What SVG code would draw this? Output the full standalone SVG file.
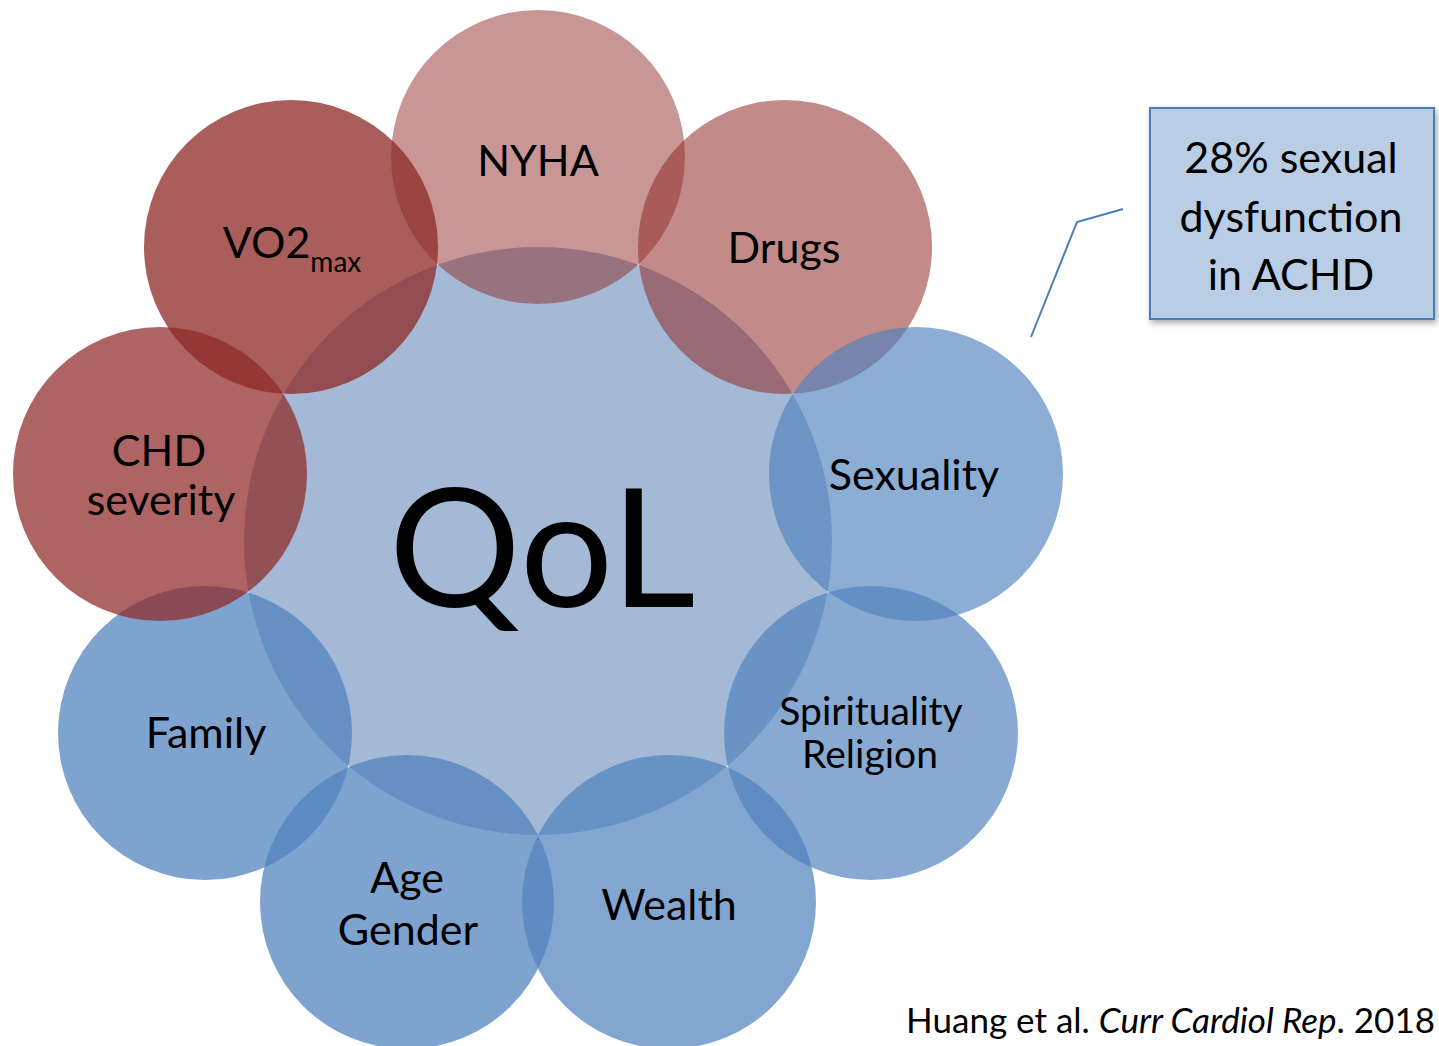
<svg xmlns="http://www.w3.org/2000/svg" width="1439" height="1046" viewBox="0 0 1439 1046">
  <style>
    .lbl { font-family: Lato, "Open Sans", "Liberation Sans", sans-serif; font-size: 43px; fill: #000; text-anchor: middle; }
    .sm { font-size: 39px; }
    .red { fill: #8E2826; }
    .blue { fill: #4F81BD; }
    .callout-text { font-family: Lato, "Open Sans", "Liberation Sans", sans-serif; font-size: 43px; fill: #000; text-anchor: middle; }
    .cite { font-family: Lato, "Open Sans", "Liberation Sans", sans-serif; font-size: 35px; fill: #000; text-anchor: end; }
  </style>
  <defs>
    <filter id="shadow" x="-10%" y="-10%" width="130%" height="130%">
      <feGaussianBlur in="SourceAlpha" stdDeviation="3"/>
      <feOffset dx="2" dy="3" result="ob"/>
      <feComponentTransfer><feFuncA type="linear" slope="0.35"/></feComponentTransfer>
      <feMerge><feMergeNode/><feMergeNode in="SourceGraphic"/></feMerge>
    </filter>
  </defs>
  <rect width="1439" height="1046" fill="#FFFFFF"/>

  <g id="node-qol">
    <circle cx="538" cy="541" r="294" fill="#A3B9D5"/>
  </g>
  <g id="node-nyha">
    <circle class="red" cx="538" cy="157" r="147" fill-opacity="0.49"/>
  </g>
  <g id="node-drugs">
    <circle class="red" cx="785" cy="247" r="147" fill-opacity="0.54"/>
  </g>
  <g id="node-sexuality">
    <circle class="blue" cx="916" cy="474" r="147" fill-opacity="0.65"/>
  </g>
  <g id="node-spirituality">
    <circle class="blue" cx="871" cy="733" r="147" fill-opacity="0.68"/>
  </g>
  <g id="node-wealth">
    <circle class="blue" cx="669" cy="902" r="147" fill-opacity="0.71"/>
  </g>
  <g id="node-age">
    <circle class="blue" cx="407" cy="902" r="147" fill-opacity="0.73"/>
  </g>
  <g id="node-family">
    <circle class="blue" cx="205" cy="733" r="147" fill-opacity="0.73"/>
  </g>
  <g id="node-chd">
    <circle class="red" cx="160" cy="474" r="147" fill-opacity="0.72"/>
  </g>
  <g id="node-vo2">
    <circle class="red" cx="291" cy="247" r="147" fill-opacity="0.75"/>
  </g>

  <g id="labels">
    <text class="lbl" x="542" y="607" style="font-size:165px">QoL</text>
    <text class="lbl" x="538" y="176">NYHA</text>
    <text class="lbl" x="784" y="263">Drugs</text>
    <text class="lbl" x="914" y="490">Sexuality</text>
    <text class="lbl sm" x="871" y="725">Spirituality</text>
    <text class="lbl sm" x="870" y="768">Religion</text>
    <text class="lbl" x="669" y="920">Wealth</text>
    <text class="lbl" x="407" y="893">Age</text>
    <text class="lbl" x="408" y="945">Gender</text>
    <text class="lbl" x="206" y="748">Family</text>
    <text class="lbl" x="159" y="466">CHD</text>
    <text class="lbl" x="161" y="515">severity</text>
    <text class="lbl" x="292" y="258">VO2<tspan style="font-size:28px" dy="14">max</tspan></text>
  </g>

  <g id="connectors">
    <polyline points="1123,209 1077,222 1031,337" fill="none" stroke="#4A7EBB" stroke-width="2"/>
  </g>

  <g id="node-callout">
    <rect x="1150" y="108" width="284" height="211" fill="#B9CDE5" stroke="#4A7EBB" stroke-width="2" filter="url(#shadow)"/>
    <text class="callout-text" x="1291" y="173">28% sexual</text>
    <text class="callout-text" x="1291" y="232">dysfunction</text>
    <text class="callout-text" x="1291" y="290">in ACHD</text>
  </g>

  <g id="citation">
    <text class="cite" x="1435" y="1033">Huang et al. <tspan font-style="italic">Curr Cardiol Rep</tspan>. 2018</text>
  </g>
</svg>
